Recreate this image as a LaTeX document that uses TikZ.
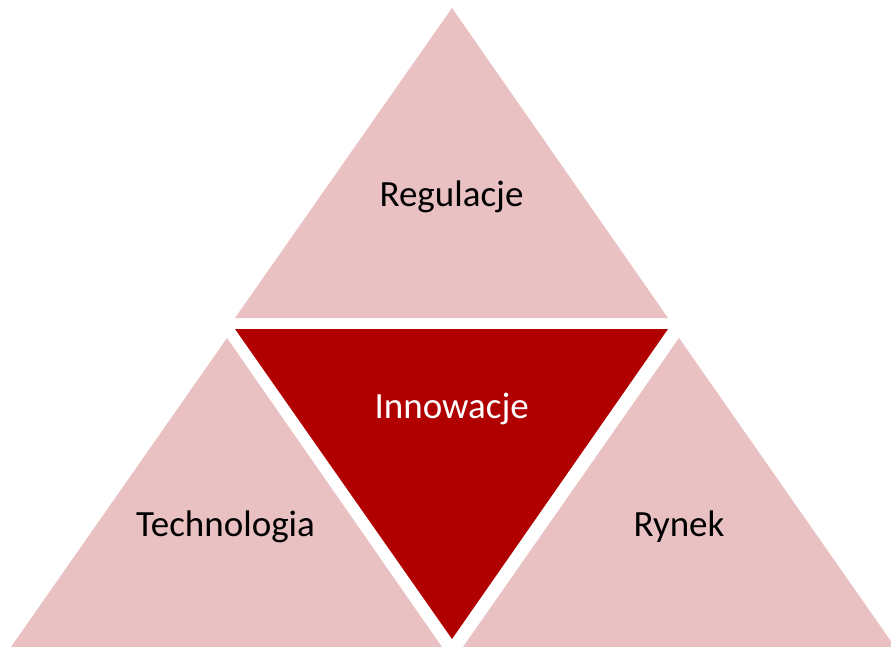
\documentclass[tikz,border=0pt]{standalone}
\usepackage{fontspec}
\setmainfont{Carlito}
\definecolor{pinkfill}{RGB}{234,193,194}
\definecolor{redfill}{RGB}{176,0,0}
\begin{document}
\begin{tikzpicture}[x=1pt,y=-1pt,
  tri/.style={fill=pinkfill,draw=none},
  centertri/.style={fill=redfill,draw=none},
  lbl/.style={anchor=base,inner sep=0pt,font=\fontsize{37}{44}\selectfont},
  darklbl/.style={lbl,text=black},
  lightlbl/.style={lbl,text=white}]
\useasboundingbox (0,0) rectangle (891,647);
\clip (0,0) rectangle (891,647);
\fill[tri] (452,8) -- (235,318) -- (668,318) -- cycle;
\fill[centertri] (235,329) -- (668,329) -- (452,639) -- cycle;
\fill[tri] (227,338) -- (11,647) -- (442,647) -- cycle;
\fill[tri] (679,338) -- (463,647) -- (895,647) -- cycle;
\node[darklbl] (reg) at (451.5,206.7) {Regulacje};
\node[lightlbl] (inn) at (451.7,418.3) {Innowacje};
\node[darklbl] (tech) at (225.5,536.7) {Technologia};
\node[darklbl] (ryn) at (679,536.7) {Rynek};
\end{tikzpicture}
\end{document}
